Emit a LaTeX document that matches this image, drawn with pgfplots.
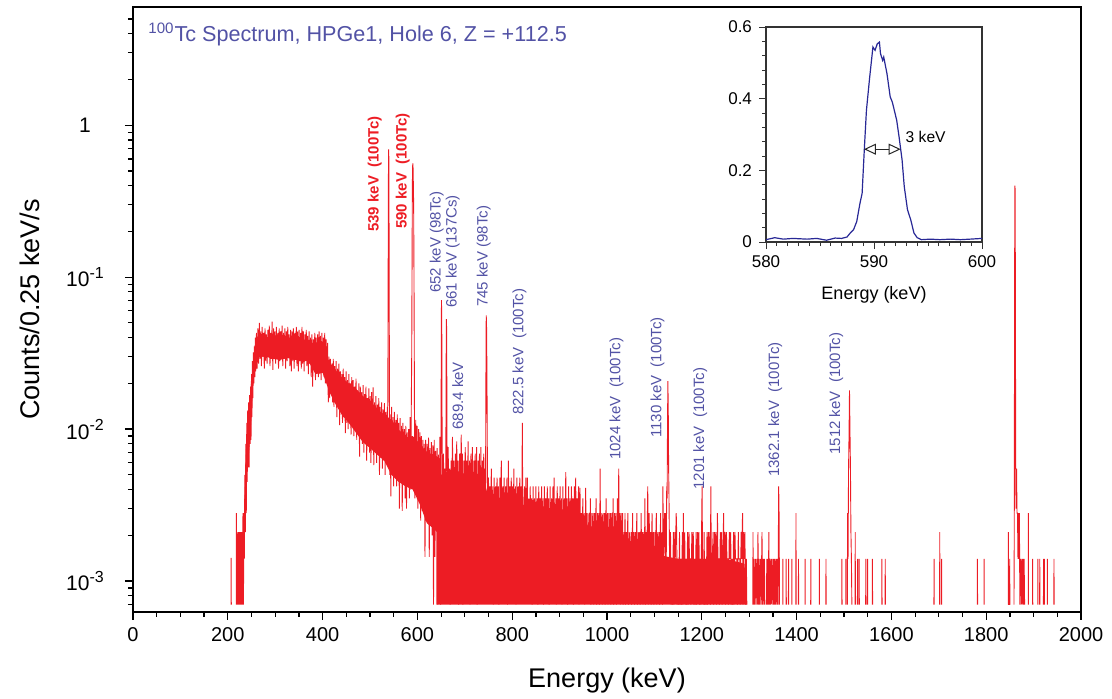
\documentclass[border=0pt]{standalone}
\usepackage{pgfplots}
\pgfplotsset{compat=1.18}
\usepackage{fontspec}
\setmainfont{Liberation Sans}
\usetikzlibrary{arrows.meta}

\definecolor{specred}{RGB}{237,28,36}
\definecolor{lblue}{RGB}{82,82,165}
\definecolor{cblue}{RGB}{40,40,150}

\newcommand{\tenp}[1]{10\raisebox{0.8ex}{\fontsize{8}{9}\selectfont #1}}

\tikzset{
  lbl/.style={rotate=90, anchor=west, inner sep=0pt, text=lblue,
    font=\fontsize{7.5}{9}\selectfont},
  rlbl/.style={rotate=90, anchor=west, inner sep=0pt, text=specred,
    font=\fontsize{7.5}{9}\selectfont\bfseries},
}

% continuum band, 232-648 keV (upper edge, then lower edge back)
\pgfplotstableread{
x y
232 0.0014
235 0.0035
238 0.0070
241 0.0105
244 0.0140
247 0.0170
250 0.0215
253 0.0265
256 0.031
260 0.036
265 0.039
275 0.039
290 0.040
305 0.040
320 0.039
335 0.039
350 0.039
365 0.038
380 0.036
395 0.036
408 0.035
413 0.027
425 0.025
440 0.022
455 0.0200
470 0.0185
485 0.0165
500 0.0155
515 0.0135
530 0.0125
545 0.0115
560 0.0100
575 0.0088
590 0.0090
605 0.0080
620 0.0070
635 0.0068
648 0.0064
648 0.0020
635 0.0022
620 0.0024
605 0.0032
590 0.0040
575 0.0042
560 0.0045
545 0.0050
530 0.0062
515 0.0068
500 0.0075
485 0.0082
470 0.0095
455 0.0110
440 0.0125
425 0.0150
413 0.0180
400 0.0235
385 0.0230
370 0.0280
355 0.0285
340 0.0285
325 0.0295
310 0.0285
295 0.0290
280 0.0300
268 0.0300
260 0.0280
256 0.0245
253 0.0190
250 0.0120
247 0.0085
244 0.0065
241 0.0060
238 0.0035
235 0.0020
232 0.0010
}\bandA

% low-count band, 640-1295 keV (upper edge, then floor back)
\pgfplotstableread{
x y
640 0.0030
650 0.0050
660 0.0052
670 0.0054
680 0.0050
690 0.0054
700 0.0050
710 0.0052
720 0.0048
730 0.0052
740 0.0046
750 0.0036
760 0.0035
770 0.0036
780 0.0034
790 0.0035
800 0.0033
810 0.0034
820 0.0032
830 0.0030
850 0.0029
870 0.0029
890 0.0028
910 0.0028
930 0.0027
950 0.0027
960 0.0023
980 0.0022
1000 0.0021
1020 0.0021
1040 0.0020
1050 0.0016
1100 0.0015
1150 0.0014
1200 0.0014
1250 0.0014
1290 0.0013
1295 0.0008
1295 0.0007
640 0.0007
}\bandB

\pgfplotstableread{
x y
206.8 7e-4
207.1 1.42e-3
207.4 7e-4
207.5 nan
217.8 7e-4
218.2 2.8e-3
218.6 7e-4
220.0 2.1e-3
221.0 7e-4
222.5 2.1e-3
223.5 7e-4
225.0 2.1e-3
226.0 7e-4
227.5 2.1e-3
228.5 7e-4
230.0 2.1e-3
231.0 7e-4
232.0 2.8e-3
233.0 7e-4
234.0 2.8e-3
234.8 1.4e-3
236 5.0e-3
237 2.1e-3
238 8.0e-3
239 2.8e-3
240 0.0110
241 4.5e-3
242 0.0133
243 5.6e-3
244 0.0150
245 5.6e-3
246 0.0167
247 0.0080
248 0.0190
249 0.0085
250 0.0230
251 0.0120
252 0.0280
253 0.0160
254 0.0320
255 0.0200
256 0.0350
257 0.0220
258 0.0400
259 0.0240
260.5 0.0430
262 0.0250
263.5 0.0460
265 0.0270
266.5 0.0500
268 0.0290
269.5 0.0440
271 0.0260
272.5 0.0470
274 0.0300
275.5 0.0430
277 0.0250
278.5 0.0460
280 0.0280
281.5 0.0420
283 0.0270
284.5 0.0450
286 0.0300
287.5 0.0480
289 0.0260
290.5 0.0430
292 0.0290
293.5 0.0510
295 0.0245
296.5 0.0460
298 0.0300
299.5 0.0440
301 0.0270
302.5 0.0470
304 0.0290
305.5 0.0430
307 0.0250
308.5 0.0460
310 0.0280
311.5 0.0440
313 0.0300
314.5 0.0480
316 0.0260
317.5 0.0430
319 0.0290
320.5 0.0460
322 0.0250
323.5 0.0440
325 0.0280
326.5 0.0470
328 0.0300
329.5 0.0420
331 0.0260
332.5 0.0450
334 0.0240
335.5 0.0440
337 0.0280
338.5 0.0460
340 0.0250
341.5 0.0430
343 0.0290
344.5 0.0470
346 0.0260
347.5 0.0440
349 0.0240
350.5 0.0450
352 0.0280
353.5 0.0430
355 0.0250
356.5 0.0470
358 0.0270
359.5 0.0440
361 0.0240
362.5 0.0420
364 0.0280
365.5 0.0450
367 0.0260
368.5 0.0410
370 0.0230
371.5 0.0440
373 0.0270
374.5 0.0400
376 0.0220
377.5 0.0420
379 0.0190
380.5 0.0390
382 0.0250
383.5 0.0430
385 0.0210
386.5 0.0400
388 0.0240
389.5 0.0420
391 0.0220
392.5 0.0440
394 0.0230
395.5 0.0410
397 0.0210
398.5 0.0430
400 0.0240
401.5 0.0400
403 0.0220
404.5 0.0430
406 0.0200
407.5 0.0390
409 0.0230
410.5 0.0370
412 0.0150
413.5 0.0300
415 0.0160
416.5 0.0290
418 0.0170
419.5 0.0270
421 0.0150
422.5 0.0290
424 0.0140
425.5 0.0260
427 0.0160
428.5 0.0280
430 0.0120
431.5 0.0250
433 0.0140
434.5 0.0270
436 0.0106
437.5 0.0240
439 0.0130
440.5 0.0230
442 0.0110
443.5 0.0250
445 0.0120
446.5 0.0220
448 0.0094
449.5 0.0240
451 0.0110
452.5 0.0210
454 0.0100
455.5 0.0230
457 0.0120
458.5 0.0200
460 0.0092
461.5 0.0220
463 0.0105
464.5 0.0210
466 0.0090
467.5 0.0190
469 0.0110
470.5 0.0215
472 0.0085
473.5 0.0180
475 0.0100
476.5 0.0200
478 0.0066
479.5 0.0190
481 0.0090
482.5 0.0175
484 0.0080
485.5 0.0195
487 0.0070
488.5 0.0170
490 0.0085
491.5 0.0190
493 0.0062
494.5 0.0160
496 0.0080
497.5 0.0185
499 0.0070
500.5 0.0165
502 0.0060
503.5 0.0175
505 0.0075
506.5 0.0188
508 0.0058
509.5 0.0150
511 0.0072
512.5 0.0165
514 0.0060
515.5 0.0145
517 0.0068
518.5 0.0160
520 0.0050
521.5 0.0140
523 0.0065
524.5 0.0150
526 0.0055
527.5 0.0135
529 0.0062
530.5 0.0148
532 0.0050
533.5 0.0130
535 0.0060
536.5 0.0140
537.3 0.0080
538.0 0.040
538.6 0.25
539.1 0.69
539.6 0.69
540.1 0.30
540.6 0.060
541.1 0.012
541.8 0.0050
542.5 0.0125
544 0.0036
545.5 0.0140
547 0.0050
548.5 0.0120
550 0.0042
551.5 0.0130
553 0.0055
554.5 0.0115
556 0.0042
557.5 0.0125
559 0.0050
560.5 0.0110
562 0.0030
563.5 0.0118
565 0.0045
566.5 0.0105
568 0.0029
569.5 0.0110
571 0.0045
572.5 0.0100
574 0.0035
575.5 0.0105
577 0.0030
578.5 0.0095
580 0.0042
581.5 0.0100
583 0.0035
584.5 0.0120
586 0.0040
587.0 0.0130
588.0 0.030
588.7 0.11
589.2 0.30
589.7 0.52
590.3 0.56
590.9 0.52
591.5 0.40
592.1 0.30
592.7 0.12
593.3 0.040
593.9 0.0100
594.6 0.0035
596.5 0.0115
598 0.0045
599.5 0.0105
601 0.0030
602.5 0.0100
604 0.0040
605.5 0.0095
607 0.0025
608.5 0.0090
610 0.0035
611.5 0.0085
613 0.0028
614.5 0.0080
616 0.00144
617.5 0.0085
619 0.0025
620.5 0.0080
622 0.0030
623.5 0.0088
625 0.00144
626.5 0.0075
628 0.0028
629.5 0.0082
631 0.0020
632.5 0.0078
634 0.0007
635.5 0.0085
637 0.00144
638.5 0.0072
640 0.0025
641.5 0.0075
643 0.0007
644.5 0.0068
646 0.0020
647.5 0.0089
649 0.0007
649.8 0.0050
650.3 0.030
650.8 0.0705
651.4 0.050
652.0 0.012
652.8 0.0035
655 0.0069
656 0.0030
658 0.0055
659 0.0014
660.0 0.0060
660.6 0.025
661.1 0.053
661.7 0.045
662.3 0.012
663.0 0.0035
665 0.0076
666 0.0030
668 0.0055
669 0.0007
671 0.0062
672 0.0030
674 0.0089
675 0.0030
677 0.0062
678 0.0014
680 0.0069
681 0.0030
683 0.0083
684 0.0030
686 0.0062
687 0.0007
689 0.0069
690 0.0030
692.5 0.0092
693.5 0.0030
695 0.0069
696 0.0007
698 0.0062
699 0.0030
701 0.0076
702 0.0014
704 0.0062
705 0.0025
707 0.0083
708 0.0030
710 0.0062
711 0.0007
713 0.0069
714 0.0030
716 0.0076
717 0.0014
719 0.0062
720 0.0025
722 0.0069
723 0.0030
725 0.0076
726 0.0007
728 0.0062
729 0.0030
731 0.0069
732 0.0014
734 0.0076
735 0.0025
737 0.0062
738 0.0030
740 0.0069
741 0.0030
743 0.0055
743.8 0.0040
744.5 0.020
745.2 0.056
745.8 0.050
746.5 0.028
747.2 0.012
748 0.0030
750 0.0048
751 0.0020
753 0.0042
754 0.0025
756 0.0055
757 0.0020
759 0.0042
760 0.0007
762 0.0048
763 0.0025
765 0.0042
766 0.0020
768 0.0048
769 0.0025
771 0.0042
772 0.0007
774 0.0048
775 0.0025
777 0.0062
778 0.0020
780 0.0042
781 0.0025
783 0.0048
784 0.0020
786 0.0042
787 0.0025
789 0.0048
790 0.0007
792 0.0062
793 0.0025
795 0.0042
796 0.0020
798 0.0048
799 0.0025
801 0.0042
802 0.0020
803.5 0.0055
804.5 0.0025
807 0.0042
808 0.0007
810 0.0048
811 0.0025
813 0.0042
814 0.0020
816 0.0048
817 0.0025
819 0.0042
820 0.0025
820.6 0.0035
821.3 0.0110
822.0 0.0045
822.8 0.0020
826 0.0042
827 0.0025
829 0.0048
830 0.0020
832 0.0048
833 0.0020
835 0.0035
836 0.0014
838 0.0042
839 0.0020
841 0.0035
842 0.0007
844 0.0042
845 0.0020
847 0.0035
848 0.0014
850 0.0042
851 0.0020
853 0.0035
854 0.0007
856 0.0042
857 0.0020
859 0.0035
860 0.0014
862 0.0042
863 0.0020
865 0.0035
866 0.0007
868 0.0042
869 0.0020
871 0.0035
872 0.0014
874 0.0042
875 0.0020
877 0.0035
878 0.0007
880 0.0042
881 0.0020
883 0.0035
884 0.0014
886 0.0042
887 0.0020
888.5 0.0048
889.5 0.0014
892 0.0035
893 0.0007
895 0.0042
896 0.0020
898 0.0035
899 0.0014
901 0.0042
902 0.0020
904 0.0035
905 0.0007
907 0.0042
908 0.0020
910 0.0035
911 0.0014
913 0.0052
914 0.0020
916 0.0035
917 0.0007
919 0.0042
920 0.0020
922 0.0035
923 0.0014
925 0.0042
926 0.0020
928 0.0035
929 0.0007
931 0.0042
932 0.0020
934 0.0048
935 0.0014
937 0.0035
938 0.0020
940 0.0042
941 0.0007
943 0.0041
944 0.0020
946 0.0028
947 0.0014
949 0.0035
950 0.0020
952 0.0028
953 0.0007
955 0.0041
956 0.0020
958 0.0028
959 0.0014
962 0.0028
963 0.0014
965 0.0035
966 0.0007
968 0.0028
969 0.0014
971 0.0028
972 0.0007
974 0.0028
975 0.0014
977 0.0035
978 0.0007
980 0.0028
981 0.0014
983 0.0028
984 0.0007
985.5 0.0055
986.5 0.0014
989 0.0028
990 0.0007
992 0.0028
993 0.0014
995 0.0028
996 0.0007
998 0.0035
999 0.0014
1001 0.0028
1002 0.0007
1004 0.0028
1005 0.0014
1007 0.0028
1008 0.0007
1010 0.0028
1011 0.0014
1013 0.0035
1014 0.0007
1016 0.0028
1017 0.0014
1019 0.0028
1020 0.0007
1022 0.0035
1023 0.0014
1024.8 0.0055
1025.8 0.0014
1027 0.0028
1028 0.0007
1030 0.0028
1031 0.0014
1033 0.0028
1034 0.0007
1036 0.0021
1037 0.0014
1038 0.0028
1039 0.0007
1041 0.0021
1042 0.0014
1044 0.0028
1045 0.0007
1047 0.0021
1048 0.0014
1051 0.0021
1052 0.0007
1054 0.0028
1055 0.0014
1057 0.0021
1058 0.0007
1060 0.0021
1061 0.0014
1063 0.0028
1064 0.0007
1066 0.0021
1067 0.0014
1069 0.0021
1070 0.0007
1072 0.0028
1073 0.0014
1075 0.0021
1076 0.0007
1078 0.0021
1079 0.0014
1080 0.0035
1081 0.0007
1083 0.0021
1084 0.0014
1086 0.0042
1087 0.0007
1089 0.0028
1090 0.0014
1092 0.0021
1093 0.0007
1095 0.0028
1096 0.0014
1098 0.0021
1099 0.0007
1101 0.0021
1102 0.0014
1104 0.0028
1105 0.0007
1107 0.0021
1108 0.0014
1110 0.0021
1111 0.0007
1113 0.0028
1114 0.0014
1116 0.0021
1117 0.0007
1118 0.0042
1119 0.0014
1121.5 0.0028
1122.5 0.0014
1124 0.0028
1125 0.0014
1126 0.0042
1126.8 0.0035
1127.6 0.0096
1128.4 0.0207
1129.2 0.0140
1130.0 0.0056
1130.8 0.0035
1132 0.0014
1134 0.0021
1135 0.0007
1137 0.0014
1138 0.0007
1140 0.0021
1141 0.0007
1143 0.0021
1144 0.0014
1146 0.0028
1147 0.0021
1148 0.0007
1150 0.0014
1151 0.0007
1153 0.0021
1154 0.0007
1156 0.0014
1157 0.0007
1159 0.0021
1160 0.0007
1161 0.0028
1162 0.0014
1164 0.0021
1165 0.0007
1167 0.0014
1168 0.0007
1170 0.0021
1171 0.0007
1173 0.0021
1174 0.0014
1176 0.0014
1177 0.0007
1179 0.0021
1180 0.0014
1182 0.0021
1183 0.0007
1185 0.0014
1186 0.0007
1188 0.0021
1189 0.0007
1191 0.0021
1192 0.0014
1194 0.0021
1195 0.0007
1197 0.0014
1198 0.0007
1199.5 0.0021
1200.6 0.0042
1201.5 0.0014
1203 0.0007
1205 0.0021
1206 0.0007
1208 0.0014
1209 0.0007
1211 0.0021
1212 0.0007
1214 0.0021
1215 0.0014
1217 0.0021
1218 0.0007
1219 0.0042
1220 0.0014
1222 0.0014
1224 0.0021
1225 0.0007
1227 0.0021
1228 0.0014
1230 0.0021
1231 0.0007
1233 0.0028
1234 0.0014
1236 0.0014
1237 0.0007
1239 0.0021
1240 0.0014
1242 0.0021
1243 0.0007
1246 0.0028
1247 0.0014
1249 0.0021
1250 0.0007
1252 0.0021
1253 0.0014
1255 0.0014
1256 0.0007
1258 0.0021
1259 0.0014
1261 0.0021
1262 0.0007
1264 0.0014
1265 0.0007
1267 0.0021
1268 0.0007
1270 0.0021
1271 0.0014
1274 0.0014
1275 0.0007
1277 0.0021
1278 0.0014
1280 0.0014
1281 0.0007
1283 0.0021
1284 0.0014
1286 0.0028
1287 0.0007
1288 0.0021
1289 0.0014
1291 0.0021
1292 0.0007
1294 0.0014
1295 0.0007
1295.5 nan
1307.7 0.0007
1308 0.0021
1308.5 0.0007
1310 0.0014
1311 0.0007
1313 0.0014
1314 0.0007
1316 0.0014
1317 0.0007
1318.5 0.0021
1319.5 0.0007
1321 0.0014
1322 0.0007
1324 0.0014
1325 0.0007
1327 0.0021
1328 0.0007
1330 0.0014
1331 0.0007
1332 0.0014
1333 0.0007
1333.5 nan
1336.7 0.0007
1337 0.0014
1337.5 0.0007
1339 0.0014
1340 0.0007
1341.5 0.0021
1342.5 0.0007
1344 0.0014
1345 0.0007
1347 0.0014
1348 0.0007
1350 0.0014
1351 0.0007
1352.5 0.0014
1353.5 0.0007
1355 0.0014
1356 0.0007
1358 0.0014
1359 0.0007
1360 0.0014
1361 0.0007
1361.6 0.0021
1362.2 0.0042
1363 0.0028
1364 0.0007
1364.5 nan
1370.7 0.0007
1371 0.0014
1371.3 0.0007
1371.4 nan
1377.7 0.0007
1378 0.0014
1378.3 0.0007
1378.4 nan
1382.7 0.0007
1383 0.0014
1383.3 0.0007
1383.4 nan
1389.7 0.0007
1390 0.0014
1390.3 0.0007
1390.4 nan
1398.4 0.0007
1398.7 0.0028
1399.0 0.0007
1399.1 nan
1403.7 0.0007
1404.0 0.0014
1404.3 0.0007
1404.4 nan
1417.7 0.0007
1418.0 0.0014
1418.3 0.0007
1418.4 nan
1429.7 0.0007
1430.0 0.0014
1430.3 0.0007
1430.4 nan
1447.7 0.0007
1448.0 0.0014
1448.3 0.0007
1448.4 nan
1461.7 0.0007
1462.0 0.0014
1462.3 0.0007
1462.4 nan
1495.3 0.0007
1495.6 0.0014
1495.9 0.0007
1496.0 nan
1503.7 0.0007
1504.0 0.0014
1504.3 0.0007
1504.4 nan
1507.0 0.0007
1507.5 0.0028
1508.5 0.0014
1509.6 0.0055
1510.6 0.0090
1511.6 0.0180
1512.6 0.0096
1513.6 0.0055
1514.6 0.0021
1515.6 0.0014
1516.6 0.0007
1516.7 nan
1523.4 0.0007
1523.7 0.0021
1524.0 0.0007
1524.1 nan
1528.3 0.0007
1528.6 0.0014
1528.9 0.0007
1529.0 nan
1531.7 0.0007
1532.0 0.0014
1532.3 0.0007
1532.4 nan
1545.7 0.0007
1546.0 0.0014
1546.3 0.0007
1546.4 nan
1549.4 0.0007
1549.7 0.0014
1550.0 0.0007
1550.1 nan
1559.7 0.0007
1560.0 0.0014
1560.3 0.0007
1560.4 nan
1579.7 0.0007
1580.0 0.0014
1580.3 0.0007
1580.4 nan
1586.7 0.0007
1587.0 0.0014
1587.3 0.0007
1587.4 nan
1689.7 0.0007
1690.0 0.0014
1690.3 0.0007
1690.4 nan
1701.7 0.0007
1702.0 0.0021
1702.3 0.0007
1702.4 nan
1705.7 0.0007
1706.0 0.0014
1706.3 0.0007
1706.4 nan
1781.2 0.0007
1781.5 0.0014
1781.8 0.0007
1781.9 nan
1795.3 0.0007
1795.6 0.0014
1795.9 0.0007
1796.0 nan
1846.5 0.0007
1846.8 0.0021
1847.4 0.0007
1849.3 0.0007
1849.6 0.0014
1849.9 0.0007
1850.0 nan
1858.6 0.0007
1859.2 0.0021
1859.8 0.0600
1860.4 0.4000
1861.0 0.3800
1861.6 0.0800
1862.2 0.0055
1863.0 0.0030
1864.0 0.0055
1865.0 0.0028
1866.0 0.0028
1867.0 0.0014
1868.0 0.0028
1869.0 0.0014
1870.0 0.0028
1871.0 0.0007
1873.0 0.0014
1874.0 0.0007
1876.0 0.0014
1877.0 0.0007
1878.0 0.0014
1879.0 0.0007
1880.0 0.0014
1881.0 0.0007
1881.1 nan
1888.7 0.0007
1889.0 0.0028
1889.3 0.0007
1889.4 nan
1897.7 0.0007
1898.0 0.0014
1898.3 0.0007
1898.4 nan
1908.7 0.0007
1909.0 0.0014
1909.3 0.0007
1909.4 nan
1912.7 0.0007
1913.0 0.0014
1913.3 0.0007
1913.4 nan
1920.7 0.0007
1921.0 0.0014
1921.5 0.0007
1922.7 0.0014
1923.0 0.0007
1923.1 nan
1928.7 0.0007
1929.0 0.0014
1929.3 0.0007
1929.4 nan
1942.7 0.0007
1943.0 0.0014
1943.3 0.0007
}\spectrum

% 590 keV line, enlarged
\pgfplotstableread{
x y
580.0 0.0065
580.8 0.012
581.6 0.008
582.5 0.010
583.8 0.008
584.7 0.010
585.6 0.005
586.4 0.011
587.0 0.010
587.5 0.014
587.8 0.025
588.1 0.034
588.4 0.057
588.7 0.108
588.9 0.136
589.1 0.257
589.3 0.368
589.6 0.460
589.9 0.544
590.1 0.535
590.3 0.553
590.5 0.558
590.6 0.526
590.8 0.507
590.9 0.516
591.2 0.470
591.5 0.405
591.7 0.390
592.1 0.340
592.3 0.298
592.6 0.229
592.8 0.155
593.1 0.090
593.4 0.062
593.7 0.025
594.0 0.012
594.4 0.0065
595.2 0.008
596.1 0.0065
597.1 0.008
598.0 0.0065
598.9 0.008
600.0 0.010
}\inset

\begin{document}
\begin{tikzpicture}
\useasboundingbox (-66.5pt,-43pt) rectangle (489.5pt,306pt);
\begin{axis}[
  at={(0pt,0pt)}, anchor=south west,
  scale only axis, width=474pt, height=302.5pt,
  xmin=0, xmax=2000,
  ymode=log, log basis y=10, ymin=6.25e-4, ymax=6,
  xtick={0,200,...,2000}, minor x tick num=3,
  ytick={1e-3,1e-2,1e-1,1},
  yticklabels={\tenp{-3},\tenp{-2},\tenp{-1},1},
  minor ytick={7e-4,8e-4,9e-4,2e-3,3e-3,4e-3,5e-3,6e-3,7e-3,8e-3,9e-3,
    2e-2,3e-2,4e-2,5e-2,6e-2,7e-2,8e-2,9e-2,0.2,0.3,0.4,0.5,0.6,0.7,0.8,0.9,2,3,4,5},
  tick align=outside, xtick pos=bottom, ytick pos=left,
  major tick length=4pt, minor tick length=2.5pt,
  every tick/.append style={black, line width=0.6pt},
  axis line style={black, line width=0.9pt},
  ticklabel style={font=\fontsize{10}{12}\selectfont},
  yticklabel style={anchor=center, xshift=-20pt, font=\fontsize{10.5}{12}\selectfont},
  /pgf/number format/assume math mode=true,
  /pgf/number format/1000 sep={},
  xlabel={Energy (keV)},
  ylabel={Counts/0.25 keV/s},
  label style={font=\fontsize{13.5}{16}\selectfont},
  xlabel style={at={(axis description cs:0.5,-0.114)}, anchor=center},
  ylabel style={at={(axis description cs:-0.1087,0.5)}, anchor=center},
  unbounded coords=jump,
]
\addplot[draw=none, fill=specred] table {\bandA};
\addplot[draw=none, fill=specred] table {\bandB};
\addplot[specred, line width=0.45pt] table {\spectrum};

\node[anchor=base west, inner sep=0pt, xshift=7.5pt, yshift=-17.4pt, text=lblue,
  font=\fontsize{10.8}{12}\selectfont] at (rel axis cs:0,1)
  {\textsuperscript{100}Tc Spectrum, HPGe1, Hole 6, Z = +112.5};

\node[rlbl] at (axis cs:510,0.198) {539 keV~~(100Tc)};
\node[rlbl] at (axis cs:569,0.207) {590 keV~~(100Tc)};
\node[lbl] at (axis cs:640.7,0.0785) {652 keV (98Tc)};
\node[lbl] at (axis cs:674.4,0.0625) {661 keV (137Cs)};
\node[lbl] at (axis cs:739.7,0.0635) {745 keV (98Tc)};
\node[lbl] at (axis cs:684.9,0.00985) {689.4 keV};
\node[lbl] at (axis cs:815.6,0.01236) {822.5 keV~~(100Tc)};
\node[lbl] at (axis cs:1020,0.00625) {1024 keV~~(100Tc)};
\node[lbl] at (axis cs:1106.4,0.00873) {1130 keV~~(100Tc)};
\node[lbl] at (axis cs:1196.8,0.00397) {1201 keV~~(100Tc)};
\node[lbl] at (axis cs:1355.1,0.00483) {1362.1 keV~~(100Tc)};
\node[lbl] at (axis cs:1483.7,0.00675) {1512 keV~~(100Tc)};
\end{axis}

\begin{axis}[
  at={(316.5pt,185pt)}, anchor=south west,
  scale only axis, width=108pt, height=107.5pt,
  xmin=580, xmax=600, ymin=0, ymax=0.6,
  xtick={580,590,600}, minor x tick num=9,
  ytick={0,0.2,0.4,0.6}, minor y tick num=4,
  tick align=outside, xtick pos=bottom, ytick pos=left,
  major tick length=3.5pt, minor tick length=2pt,
  every tick/.append style={black!80, line width=0.5pt},
  axis line style={black!80, line width=0.7pt},
  axis background/.style={fill=white},
  ticklabel style={font=\fontsize{8.5}{10}\selectfont},
  /pgf/number format/assume math mode=true,
  yticklabel style={/pgf/number format/fixed},
  xlabel={Energy (keV)},
  xlabel style={font=\fontsize{9}{11}\selectfont,
    at={(axis description cs:0.5,-0.2465)}, anchor=center},
]
\addplot[cblue, line width=0.6pt] table {\inset};
\draw[{Triangle[open,length=6pt,width=5.5pt]}-{Triangle[open,length=6pt,width=5.5pt]},
  line width=0.5pt, black!85] (axis cs:589.07,0.259) -- (axis cs:592.47,0.259);
\node[anchor=west, inner sep=0pt, font=\fontsize{7.8}{9}\selectfont]
  at (axis cs:592.9,0.293) {3 keV};
\end{axis}
\end{tikzpicture}
\end{document}
